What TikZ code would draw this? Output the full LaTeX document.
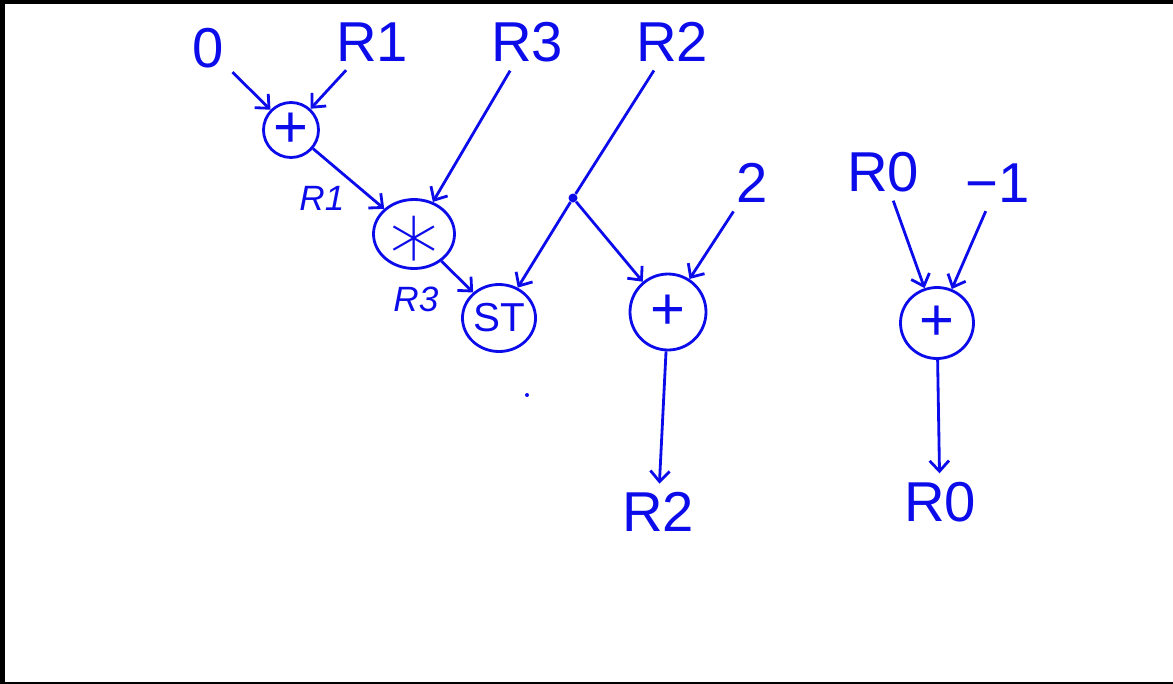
\documentclass[tikz,border=0pt]{standalone}
\usepackage{fontspec}
\setmainfont{Liberation Sans}
\newfontfamily\symfont{DejaVu Sans ExtraLight}
\usetikzlibrary{arrows.meta,shapes.geometric}
\definecolor{ink}{RGB}{12,12,235}
\begin{document}
\begin{tikzpicture}[
        lbl/.style={text=ink, inner sep=2pt, outer sep=3pt, font=\fontsize{32}{32}\selectfont},
        reg/.style={text=ink, inner sep=1pt, font=\fontsize{20}{20}\selectfont\itshape},
        op/.style={ellipse, draw=ink, line width=1.6pt, inner sep=0pt, text=ink},
        arr/.style={draw=ink, line width=1.6pt, -{Straight Barb[length=6pt, width=11pt]}},
        wire/.style={draw=ink, line width=1.6pt}]
        \useasboundingbox (0,0) rectangle (23.46,-13.68);
        \fill[black] (0,0) rectangle (23.46,-0.08);
        \fill[black] (0,0) rectangle (0.1,-13.68);
        \fill[black] (0,-13.64) rectangle (23.46,-13.68);

        % inputs
        \node[lbl](zero) at (4.16, -0.96){0};
        \node[lbl](rone) at (7.44, -0.84){R1};
        \node[lbl](rthree) at (10.54, -0.84){R3};
        \node[lbl](rtwo) at (13.44, -0.84){R2};
        \node[lbl](two) at (15.04, -3.66){2};
        \node[lbl](rzero) at (17.66, -3.44){R0};
        \node[lbl](mone) at (19.96, -3.66){−1};

        % operations
        \node[op, minimum width=1.1cm, minimum height=1.1cm, font=\fontsize{34}{34}\selectfont](addA) at (5.82, -2.6){+};
        \node[op, minimum width=1.62cm, minimum height=1.38cm, font=\fontsize{56}{56}\selectfont\symfont](mul) at (8.28, -4.68){\raisebox{-0.36em}[0pt][0pt]{\makebox[0pt]{∗}}};
        \node[op, minimum width=1.42cm, minimum height=1.34cm, font=\fontsize{23}{23}\selectfont](st) at (9.98, -6.36){ST};
        \node[op, minimum width=1.52cm, minimum height=1.52cm, font=\fontsize{34}{34}\selectfont](addB) at (13.36, -6.24){+};
        \node[op, minimum width=1.46cm, minimum height=1.42cm, font=\fontsize{34}{34}\selectfont](addC) at (18.74, -6.46){+};
        \node[circle, fill=ink, inner sep=0pt, minimum size=0.18cm](split) at (11.46, -3.96){};

        % outputs
        \node[lbl](outtwo) at (13.16, -10.24){R2};
        \node[lbl](outzero) at (18.8, -10.04){R0};

        \draw[arr] (zero) -- (addA);
        \draw[arr] (rone) -- (addA);
        \draw[arr] (addA) -- (mul) node[pos=0.83, left=14pt, reg]() {R1};
        \draw[arr] (rthree) -- (mul);
        \draw[arr] (mul) -- (st) node[pos=1, left=18pt, yshift=-4pt, reg]() {R3};
        \draw[wire] (rtwo) -- (split);
        \draw[arr] (split) -- (st);
        \draw[arr] (split) -- (addB);
        \draw[arr] (two) -- (addB);
        \draw[arr] (addB) -- (outtwo);
        \draw[arr] (rzero) -- (addC);
        \draw[arr] (mone) -- (addC);
        \draw[arr] (addC) -- (outzero);

        \fill[ink] (10.54,-7.9) circle (0.04);
    \end{tikzpicture}
\end{document}
